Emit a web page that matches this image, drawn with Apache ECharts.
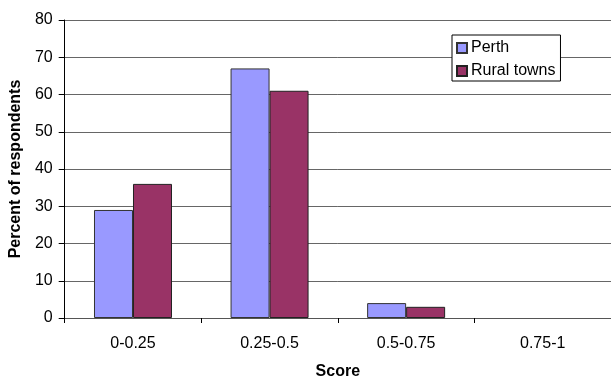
<!DOCTYPE html>
<html>
<head>
<meta charset="utf-8">
<script src="https://cdn.jsdelivr.net/npm/echarts@6/dist/echarts.min.js"></script>
<style>
html,body{margin:0;padding:0;background:#fff;}
#chart{width:611px;height:385px;}
</style>
</head>
<body>
<div id="chart"></div>
<script>
const categories = ['0-0.25', '0.25-0.5', '0.5-0.75', '0.75-1'];
const perth = [29, 67, 4, 0];
const ruralTowns = [36, 61, 3, 0];
const yTicks = { min: 0, max: 80, interval: 10 };

const FONT = 'Liberation Sans, Arial, sans-serif';
const FS = 16;

function toItems(arr) {
  return arr.map(v => v === 0 ? { value: v, itemStyle: { borderWidth: 0, opacity: 0 } } : v);
}

const chart = echarts.init(document.getElementById('chart'), null, { renderer: 'canvas' });
chart.setOption({
  animation: false,
  backgroundColor: '#ffffff',
  textStyle: { fontFamily: FONT },
  grid: { left: 64, right: -2, top: 20, bottom: 59.5, containLabel: false },
  legend: {
    orient: 'vertical',
    left: 452,
    top: 35,
    padding: [5, 5, 2, 4],
    itemWidth: 10,
    itemHeight: 10,
    itemGap: 7,
    borderColor: '#000',
    borderWidth: 1,
    backgroundColor: '#fff',
    icon: 'rect',
    textStyle: { fontFamily: FONT, fontSize: FS, color: '#000', padding: [0, 0, 0, -1] },
    data: ['Perth', 'Rural towns']
  },
  xAxis: {
    type: 'category',
    data: categories,
    name: 'Score',
    nameLocation: 'middle',
    nameGap: 46,
    nameTextStyle: { fontFamily: FONT, fontSize: FS, fontWeight: 'bold', color: '#000' },
    axisLine: { lineStyle: { color: '#555', width: 1 } },
    axisTick: { show: true, length: 5, alignWithLabel: false, lineStyle: { color: '#000' } },
    axisLabel: { fontFamily: FONT, fontSize: FS, color: '#000', margin: 18 },
    splitLine: { show: false }
  },
  yAxis: {
    type: 'value',
    min: yTicks.min,
    max: yTicks.max,
    interval: yTicks.interval,
    name: 'Percent of respondents',
    nameLocation: 'middle',
    nameGap: 31,
    nameRotate: 90,
    nameTextStyle: { fontFamily: FONT, fontSize: FS, fontWeight: 'bold', color: '#000' },
    axisLine: { show: true, lineStyle: { color: '#000', width: 1 } },
    axisTick: { show: true, length: 6, lineStyle: { color: '#000' } },
    axisLabel: { fontFamily: FONT, fontSize: FS, color: '#000', margin: 12 },
    splitLine: { show: true, lineStyle: { color: '#666', width: 1 } }
  },
  series: [
    {
      name: 'Perth',
      type: 'bar',
      data: toItems(perth),
      barWidth: 39,
      barGap: '0%',
      itemStyle: { color: '#9999FF', borderColor: '#333', borderWidth: 1 }
    },
    {
      name: 'Rural towns',
      type: 'bar',
      data: toItems(ruralTowns),
      barWidth: 39,
      barGap: '0%',
      itemStyle: { color: '#993366', borderColor: '#222', borderWidth: 1 }
    }
  ]
});
</script>
</body>
</html>
